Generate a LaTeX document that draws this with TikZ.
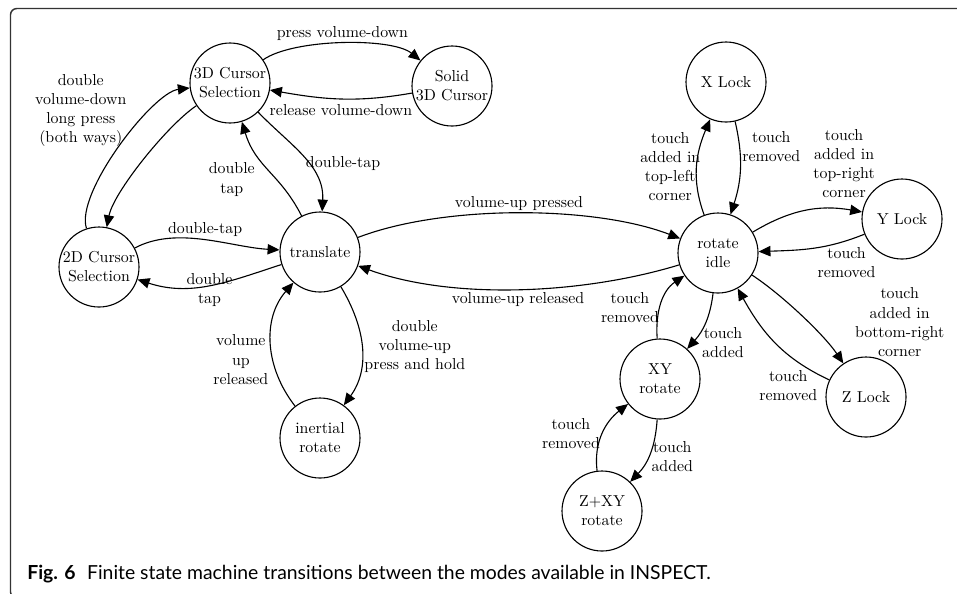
\documentclass[tikz,border=0pt]{standalone}
\usepackage{fontspec}
\newfontfamily\figfont{Lato}
\usetikzlibrary{arrows.meta}
\tikzset{
	state/.style={draw, circle, line width=0.7pt, minimum size=50.4pt, inner sep=0pt, align=center},
	trans/.style={-{Triangle[length=7.5pt,width=6.5pt]}, line width=0.7pt},
	lbl/.style={align=center, inner sep=1.5pt}
}
\begin{document}
\begin{tikzpicture}
	[x=0.63pt, y=-0.63pt]
	\useasboundingbox (0,0) rectangle (957,593);
	\draw[line width=0.9pt, black!80, rounded corners=4pt] (957,8.5) -- (10.5,8.5) -- (10.5,598) -- (30,598);
	\node[anchor=base west, inner sep=0pt, font=\figfont\fontsize{12.2}{14}\selectfont] (caption) at (27,579)
		{\textbf{Fig. 6}\hspace{0.6em}Finite state machine transitions between the modes available in INSPECT.};
	\foreach \name/\x/\y/\txt in {sel3d/230/83/{3D Cursor\\Selection}, solid/452/86/{Solid\\3D Cursor},
		sel2d/99/267/{2D Cursor\\Selection}, translate/320/252/{translate}, inertial/320/438/{inertial\\rotate},
		idle/718/253/{rotate\\idle}, xlock/726/82/{X Lock}, ylock/902/219/{Y Lock}, zlock/866/397/{Z Lock},
		xyrot/660/379/{XY\\rotate}, zxyrot/602/511/{Z+XY\\rotate}}
	{	\node[state] (\name) at (\x,\y) {\txt};
		}
	\draw[trans] (sel3d) to[out=35, in=141, looseness=.6] node[lbl, above] (l1) {press volume-down} (solid);
	\draw[trans] (solid) to[out=190, in=350] node[lbl, below, yshift=-2pt] (l2) {release volume-down} (sel3d);
	\draw[trans] (sel2d) to[out=108, in=187, looseness=.55] node[lbl, pos=.5, anchor=south east, xshift=6pt, yshift=-2pt] (l3) {double\\volume-down\\long press\\(both ways)} (sel3d);
	\draw[trans] (sel3d) to[out=214, in=79, looseness=.6] (sel2d);
	\draw[trans] (sel2d) to[out=28, in=177, looseness=.85] node[lbl, above] (l4) {double-tap} (translate);
	\draw[trans] (translate) to[out=198, in=342] node[lbl, yshift=-3pt] (l5) {double\\tap} (sel2d);
	\draw[trans] (sel3d) to[out=314, in=87] node[lbl, right, yshift=-4pt] (l6) {double-tap} (translate);
	\draw[trans] (translate) to[out=117, in=287, looseness=1.1] node[lbl, left, xshift=-7pt, yshift=-6pt] (l7) {double\\tap} (sel3d);
	\draw[trans] (translate) to[out=301, in=54] node[lbl, right] (l8) {double\\volume-up\\press and hold} (inertial);
	\draw[trans] (inertial) to[out=128, in=229] node[lbl, left, yshift=-10pt] (l9) {volume\\up\\released} (translate);
	\draw[trans] (translate) to[out=21, in=159, looseness=.73] node[lbl, above] (l10) {volume-up pressed} (idle);
	\draw[trans] (idle) to[out=197, in=340, looseness=.8] node[lbl, below] (l11) {volume-up released} (translate);
	\draw[trans] (idle) to[out=110, in=247] node[lbl, left, xshift=4pt] (l12) {touch\\added in\\top-left\\corner} (xlock);
	\draw[trans] (xlock) to[out=283, in=72] node[lbl, pos=.25, right] (l13) {touch\\removed} (idle);
	\draw[trans] (idle) to[out=31, in=170] node[lbl, pos=.7, above=5pt, xshift=11pt] (l14) {touch\\added in\\top-right\\corner} (ylock);
	\draw[trans] (ylock) to[out=202, in=2] node[lbl, pos=.3, below, xshift=9pt] (l15) {touch\\removed} (idle);
	\draw[trans] (idle) to[out=327, in=124, looseness=.7] node[lbl, pos=.85, anchor=south west, xshift=12pt, yshift=-6pt] (l16) {touch\\added in\\bottom-right\\corner} (zlock);
	\draw[trans] (zlock) to[out=155, in=299] node[lbl, pos=.12, anchor=north east, xshift=4pt, yshift=3pt] (l17) {touch\\removed} (idle);
	\draw[trans] (idle) to[out=263, in=48] node[lbl, pos=.7, right, yshift=-6pt] (l18) {touch\\added} (xyrot);
	\draw[trans] (xyrot) to[out=94, in=214] node[lbl, left, yshift=-3pt] (l19) {touch\\removed} (idle);
	\draw[trans] (xyrot) to[out=266, in=46] node[lbl, pos=.55, right] (l20) {touch\\added} (zxyrot);
	\draw[trans] (zxyrot) to[out=97, in=218] node[lbl, left] (l21) {touch\\removed} (xyrot);
	\end{tikzpicture}
\end{document}
